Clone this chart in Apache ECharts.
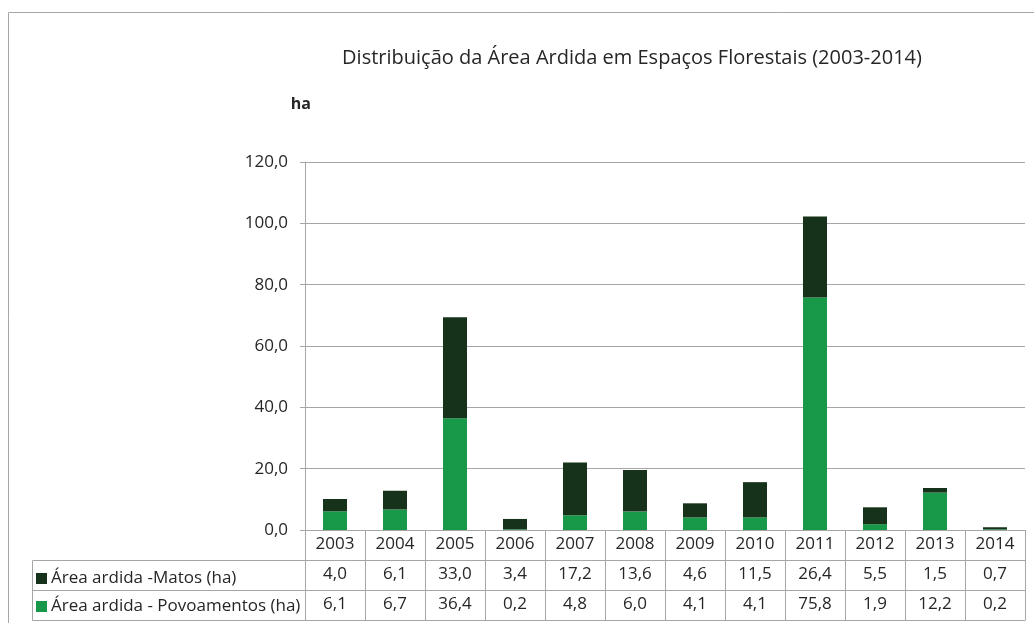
<!DOCTYPE html>
<html><head><meta charset="utf-8">
<script src="https://cdn.jsdelivr.net/npm/echarts@6/dist/echarts.min.js"></script>
<style>html,body{margin:0;padding:0;background:#fff}#c{width:1034px;height:623px}</style>
</head><body><div id="c"></div>
<script>
const years = ['2003','2004','2005','2006','2007','2008','2009','2010','2011','2012','2013','2014'];
const matos = [4.0, 6.1, 33.0, 3.4, 17.2, 13.6, 4.6, 11.5, 26.4, 5.5, 1.5, 0.7];
const povoamentos = [6.1, 6.7, 36.4, 0.2, 4.8, 6.0, 4.1, 4.1, 75.8, 1.9, 12.2, 0.2];
const yTicks = [0, 20, 40, 60, 80, 100, 120];
const nameMatos = 'Área ardida -Matos (ha)';
const namePov = 'Área ardida - Povoamentos (ha)';

const FONT = '"Open Sans", "Noto Sans", sans-serif';
const GRAY = '#a6a6a6';
const TXT = '#262626';
const fmt = v => Number(v).toFixed(1).replace('.', ',');

const chart = echarts.init(document.getElementById('c'));
function rowAxis(offset, values, showLabel) {
  return {
    type: 'category', data: years, gridIndex: 0, position: 'bottom', offset: offset,
    axisLine: {show: true, lineStyle: {color: GRAY, width: 1}},
    axisTick: {show: showLabel, interval: 0, length: 30, lineStyle: {color: GRAY}},
    axisLabel: {show: showLabel, interval: 0, margin: 6, fontFamily: FONT, fontSize: 17, color: TXT,
      formatter: (v, i) => values ? fmt(values[i]) : v},
    splitLine: {show: false}
  };
}
chart.setOption({
  animation: false,
  backgroundColor: '#fff',
  title: {text: 'Distribuição da Área Ardida em Espaços Florestais (2003-2014)', left: 627, top: 43, textAlign: 'center',
    textStyle: {fontFamily: FONT, fontSize: 20, fontWeight: 'normal', color: TXT}},
  legend: {orient: 'vertical', left: 31, top: 565, itemGap: 11, itemWidth: 11, itemHeight: 11, icon: 'rect',
    data: [nameMatos, namePov], selectedMode: false,
    textStyle: {fontFamily: FONT, fontSize: 17, color: TXT, padding: [0, 0, 0, -1]}},
  grid: {left: 305, right: 9, top: 162, bottom: 93},
  xAxis: [
    rowAxis(0, null, true),
    rowAxis(30, matos, true),
    rowAxis(60, povoamentos, true),
    rowAxis(90, null, false)
  ],
  yAxis: {type: 'value', min: yTicks[0], max: yTicks[yTicks.length - 1], interval: 20,
    name: 'ha', nameLocation: 'end', nameGap: 50,
    nameTextStyle: {fontFamily: FONT, fontSize: 16, fontWeight: 'bold', color: TXT, align: 'right', padding: [0, -6, 0, 0]},
    axisLine: {show: true, lineStyle: {color: GRAY}},
    axisTick: {show: true, length: 5, lineStyle: {color: GRAY}},
    axisLabel: {formatter: fmt, fontFamily: FONT, fontSize: 17, color: TXT, margin: 17},
    splitLine: {lineStyle: {color: GRAY}}},
  series: [
    {name: namePov, type: 'bar', stack: 'a', data: povoamentos, barWidth: 24, itemStyle: {color: '#18994a'}},
    {name: nameMatos, type: 'bar', stack: 'a', data: matos, barWidth: 24, itemStyle: {color: '#16321a'}}
  ],
  graphic: [
    {type: 'rect', shape: {x: 8.5, y: 12.5, width: 1040, height: 640}, style: {fill: 'none', stroke: GRAY, lineWidth: 1}, silent: true},
    {type: 'line', shape: {x1: 32.5, y1: 560.5, x2: 305, y2: 560.5}, style: {stroke: GRAY, lineWidth: 1}},
    {type: 'line', shape: {x1: 32.5, y1: 590.5, x2: 305, y2: 590.5}, style: {stroke: GRAY, lineWidth: 1}},
    {type: 'line', shape: {x1: 32.5, y1: 620.5, x2: 305, y2: 620.5}, style: {stroke: GRAY, lineWidth: 1}},
    {type: 'line', shape: {x1: 32.5, y1: 560.5, x2: 32.5, y2: 620.5}, style: {stroke: GRAY, lineWidth: 1}}
  ]
});
</script></body></html>
